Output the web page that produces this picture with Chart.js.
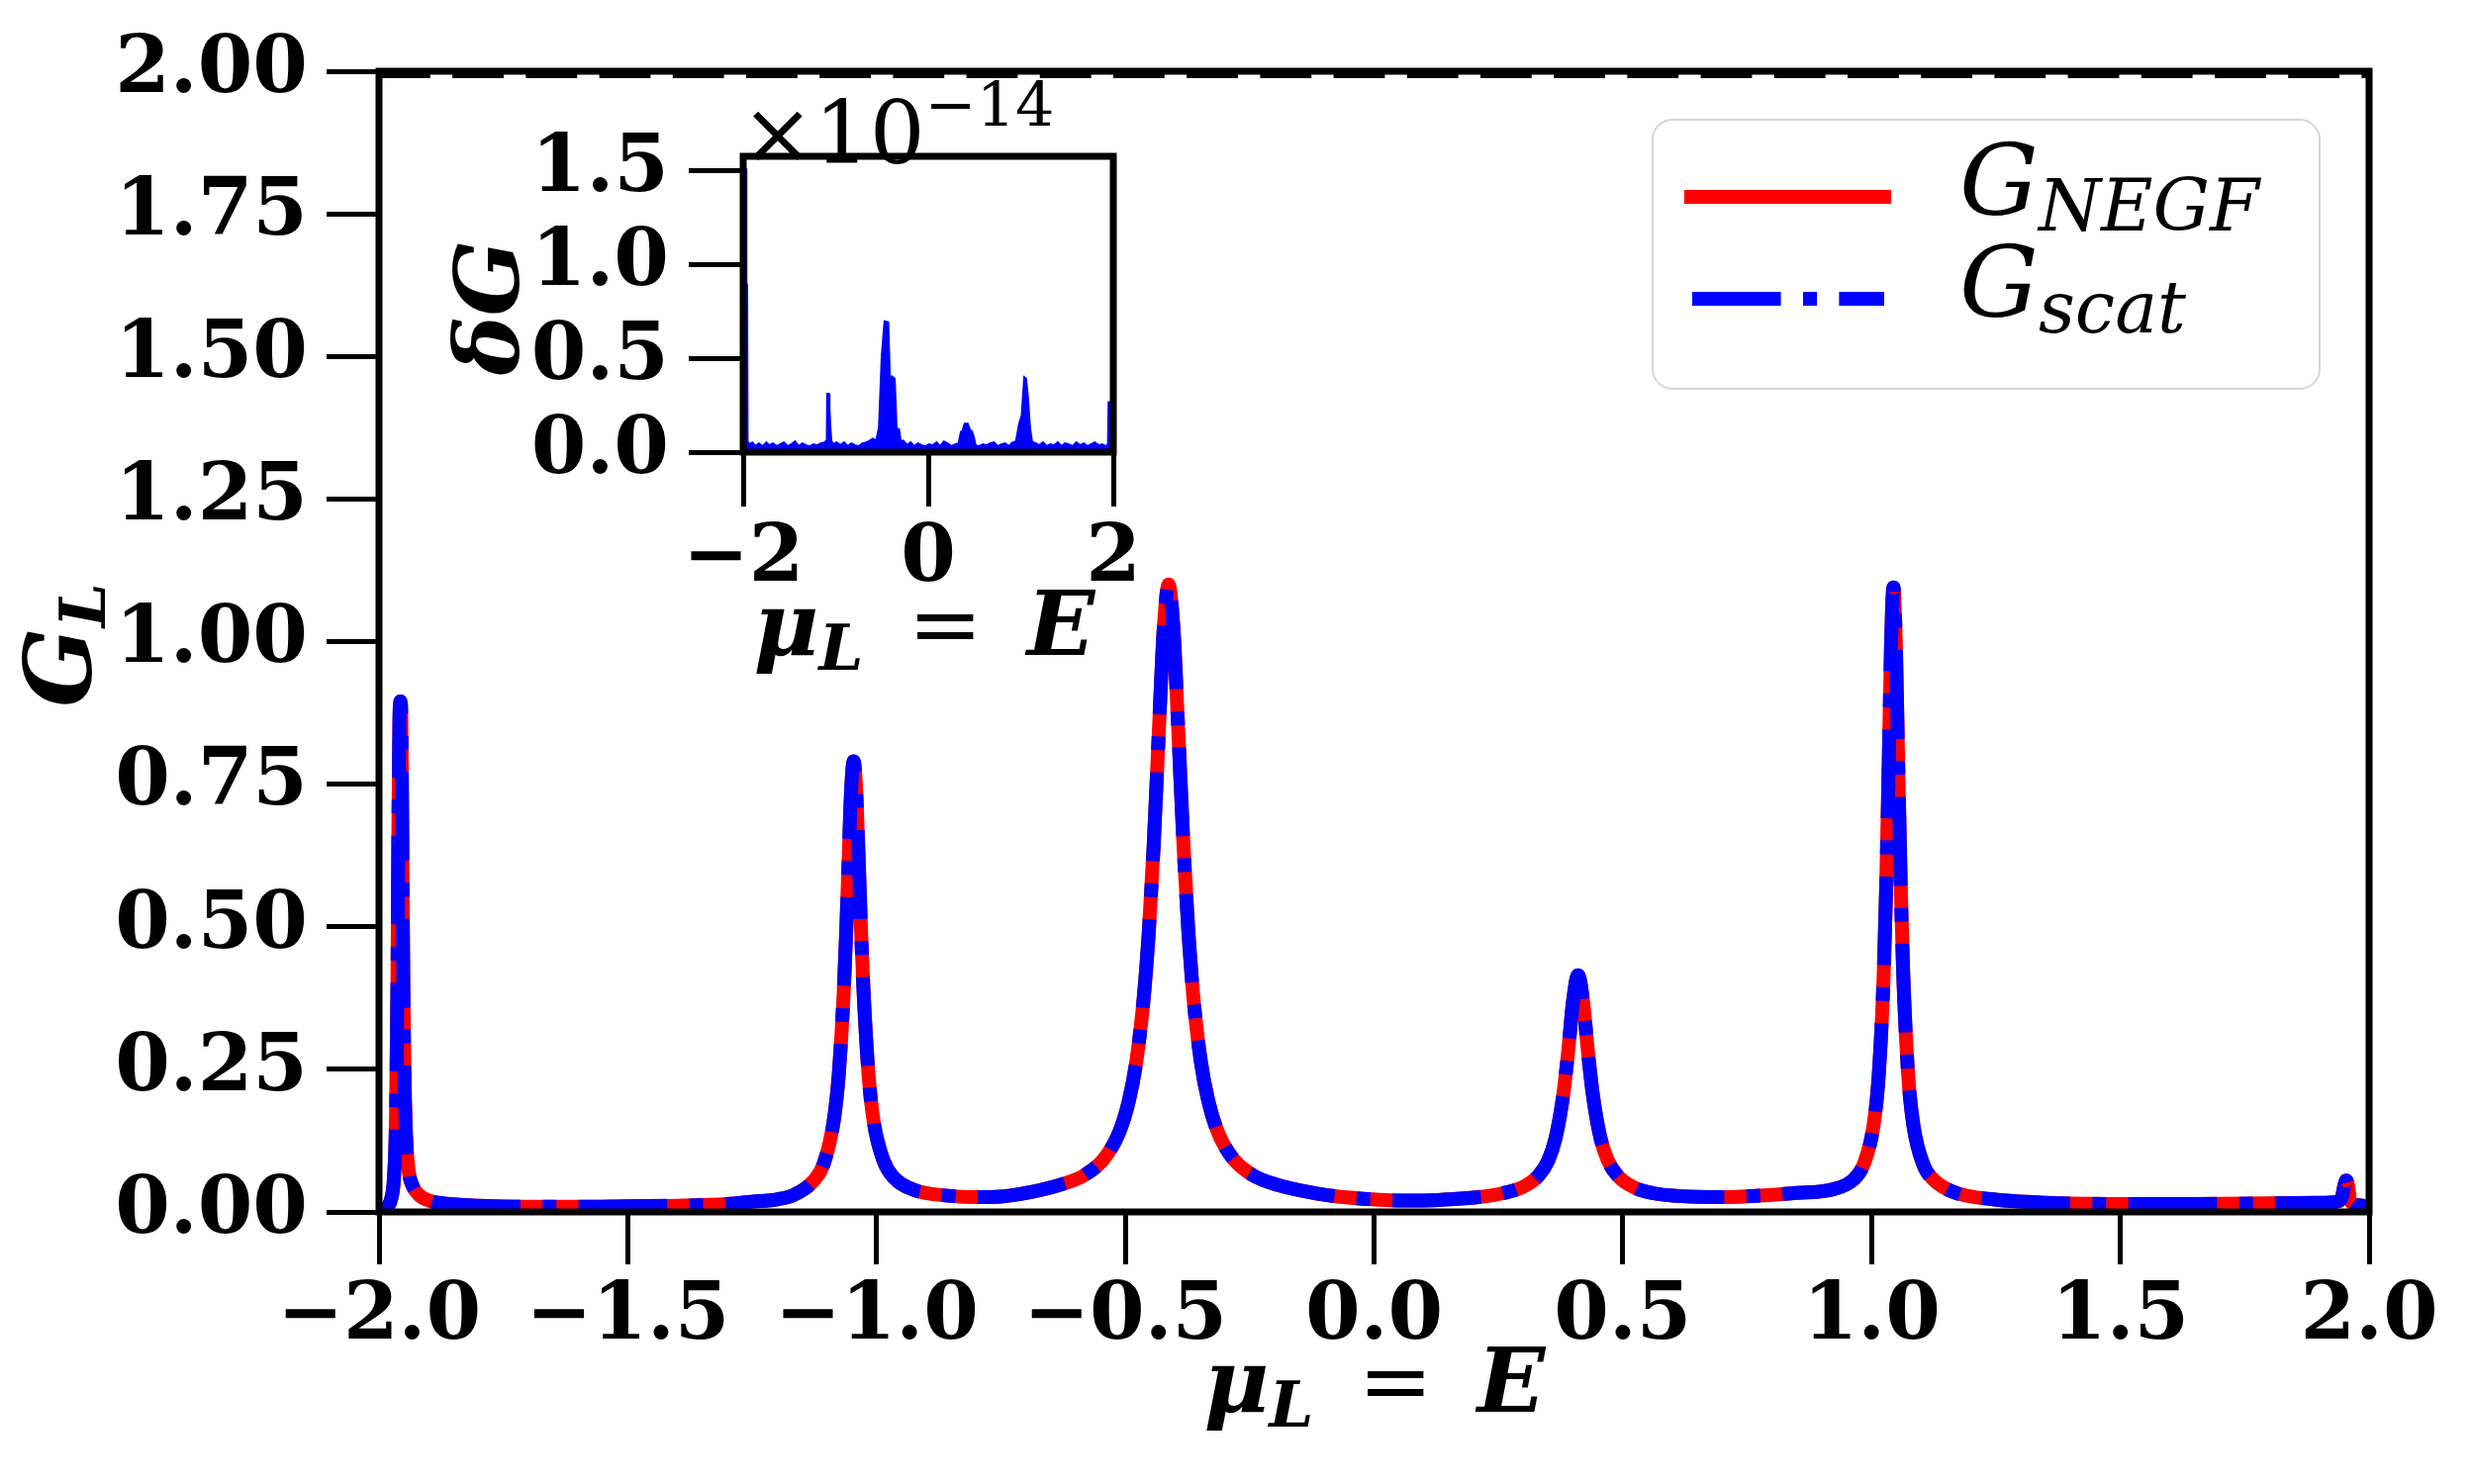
<!DOCTYPE html>
<html><head><meta charset="utf-8">
<script src="https://cdn.jsdelivr.net/npm/chart.js@4.4.1/dist/chart.umd.min.js"></script>
<style>
html,body{margin:0;padding:0;background:#fff;}
#wrap{position:relative;width:2500px;height:1500px;overflow:hidden;}
canvas{position:absolute;left:0;top:0;}
</style></head><body>
<div id="wrap">
<canvas id="main" width="2500" height="1500"></canvas>
<canvas id="inset" width="1250" height="720"></canvas>
</div>
<script>
// ---- main panel data: conductance G_L vs mu_L = E ----
const energies = [-2.000,-1.990,-1.982,-1.975,-1.970,-1.966,-1.963,-1.961,-1.959,-1.957,
-1.955,-1.953,-1.951,-1.948,-1.945,-1.940,-1.932,-1.920,-1.900,-1.870,
-1.800,-1.700,-1.600,-1.500,-1.400,-1.300,-1.250,-1.200,-1.166,-1.126,
-1.106,-1.086,-1.076,-1.066,-1.061,-1.056,-1.051,-1.046,-1.041,-1.036,
-1.031,-1.026,-1.016,-1.006,-0.986,-0.966,-0.926,-0.850,-0.800,-0.750,
-0.700,-0.633,-0.583,-0.543,-0.513,-0.493,-0.478,-0.463,-0.453,-0.443,
-0.433,-0.423,-0.413,-0.403,-0.393,-0.383,-0.373,-0.363,-0.348,-0.333,
-0.313,-0.283,-0.243,-0.193,-0.113,-0.050,0.000,0.050,0.100,0.150,
0.210,0.260,0.300,0.330,0.350,0.365,0.380,0.390,0.400,0.410,
0.420,0.430,0.440,0.455,0.470,0.490,0.520,0.560,0.610,0.700,
0.800,0.844,0.924,0.964,0.984,1.004,1.014,1.024,1.029,1.034,
1.039,1.044,1.049,1.054,1.059,1.064,1.074,1.084,1.104,1.124,
1.164,1.244,1.350,1.500,1.650,1.800,1.900,1.935,1.945,1.950,
1.954,1.958,1.962,1.975,1.990,2.000];
const gNegf = [0.000,0.004,0.010,0.025,0.060,0.160,0.400,0.680,0.860,0.895,
0.860,0.620,0.380,0.200,0.120,0.070,0.045,0.030,0.020,0.015,
0.011,0.009,0.009,0.010,0.011,0.014,0.018,0.022,0.030,0.055,
0.085,0.160,0.240,0.385,0.490,0.620,0.740,0.790,0.740,0.620,
0.490,0.385,0.240,0.160,0.090,0.061,0.039,0.028,0.026,0.027,
0.033,0.047,0.064,0.093,0.138,0.194,0.263,0.375,0.488,0.642,
0.834,1.019,1.100,1.019,0.834,0.642,0.488,0.375,0.263,0.194,
0.138,0.093,0.064,0.047,0.032,0.025,0.022,0.020,0.020,0.022,
0.026,0.033,0.044,0.063,0.090,0.130,0.204,0.280,0.370,0.415,
0.370,0.280,0.204,0.130,0.090,0.063,0.044,0.033,0.028,0.026,
0.030,0.033,0.040,0.057,0.083,0.152,0.235,0.407,0.558,0.764,
0.988,1.095,0.988,0.764,0.558,0.407,0.235,0.152,0.083,0.057,
0.035,0.022,0.016,0.014,0.014,0.015,0.016,0.018,0.025,0.045,
0.055,0.045,0.020,0.012,0.010,0.000];
// G_scat coincides with G_NEGF to plotting accuracy
const gScat = [0.000,0.004,0.010,0.025,0.060,0.160,0.400,0.680,0.860,0.895,
0.860,0.620,0.380,0.200,0.120,0.070,0.045,0.030,0.020,0.015,
0.011,0.009,0.009,0.010,0.011,0.014,0.018,0.022,0.030,0.055,
0.085,0.160,0.240,0.385,0.490,0.620,0.740,0.790,0.740,0.620,
0.490,0.385,0.240,0.160,0.090,0.061,0.039,0.028,0.026,0.027,
0.033,0.047,0.064,0.093,0.138,0.194,0.263,0.375,0.488,0.642,
0.834,1.019,1.100,1.019,0.834,0.642,0.488,0.375,0.263,0.194,
0.138,0.093,0.064,0.047,0.032,0.025,0.022,0.020,0.020,0.022,
0.026,0.033,0.044,0.063,0.090,0.130,0.204,0.280,0.370,0.415,
0.370,0.280,0.204,0.130,0.090,0.063,0.044,0.033,0.028,0.026,
0.030,0.033,0.040,0.057,0.083,0.152,0.235,0.407,0.558,0.764,
0.988,1.095,0.988,0.764,0.558,0.407,0.235,0.152,0.083,0.057,
0.035,0.022,0.016,0.014,0.014,0.015,0.016,0.018,0.025,0.045,
0.055,0.045,0.020,0.012,0.010,0.000];
const upperLineE = [-2, 2];
const upperLineG = [2, 2];
const xTicks = [-2.0,-1.5,-1.0,-0.5,0.0,0.5,1.0,1.5,2.0];
const yTicks = [0.00,0.25,0.50,0.75,1.00,1.25,1.50,1.75,2.00];

// ---- inset data: deltaG (units of 1e-14) ----
const insetEnergies = [-2.000,-1.985,-1.975,-1.968,-1.960,-1.955,-1.940,-1.900,-1.870,-1.830,
-1.790,-1.750,-1.720,-1.680,-1.640,-1.600,-1.560,-1.520,-1.480,-1.440,
-1.400,-1.360,-1.320,-1.280,-1.240,-1.200,-1.160,-1.120,-1.100,-1.093,
-1.089,-1.078,-1.070,-1.060,-1.050,-1.030,-0.990,-0.950,-0.910,-0.870,
-0.830,-0.790,-0.750,-0.710,-0.670,-0.630,-0.600,-0.560,-0.530,-0.500,
-0.470,-0.435,-0.414,-0.390,-0.365,-0.345,-0.318,-0.300,-0.270,-0.230,
-0.190,-0.150,-0.110,-0.070,-0.030,0.010,0.050,0.090,0.130,0.170,
0.210,0.250,0.290,0.330,0.355,0.370,0.395,0.425,0.450,0.470,
0.490,0.510,0.550,0.590,0.630,0.670,0.710,0.750,0.790,0.830,
0.870,0.910,0.950,0.985,1.013,1.040,1.055,1.073,1.098,1.120,
1.160,1.200,1.240,1.280,1.320,1.360,1.400,1.440,1.480,1.520,
1.560,1.600,1.640,1.680,1.720,1.760,1.800,1.840,1.880,1.920,
1.945,1.952,2.000];
const insetDeltaG = [0.03,0.04,1.51,0.90,0.89,0.06,0.04,0.05,0.03,0.045,
0.03,0.05,0.035,0.045,0.03,0.04,0.05,0.03,0.04,0.055,
0.03,0.045,0.035,0.03,0.04,0.035,0.045,0.05,0.06,0.10,
0.31,0.31,0.23,0.13,0.06,0.04,0.05,0.035,0.05,0.03,
0.045,0.035,0.03,0.045,0.05,0.06,0.07,0.06,0.13,0.51,
0.695,0.69,0.335,0.40,0.39,0.126,0.12,0.055,0.06,0.035,
0.05,0.03,0.045,0.035,0.03,0.04,0.035,0.05,0.03,0.055,
0.045,0.03,0.04,0.045,0.107,0.11,0.15,0.15,0.116,0.11,
0.08,0.035,0.03,0.04,0.035,0.045,0.05,0.03,0.04,0.045,
0.03,0.05,0.055,0.15,0.195,0.396,0.39,0.30,0.126,0.054,
0.045,0.035,0.05,0.03,0.04,0.035,0.05,0.03,0.045,0.04,
0.03,0.05,0.035,0.045,0.03,0.04,0.05,0.035,0.04,0.03,
0.04,0.265,0.265];
const insetXTicks = [-2, 0, 2];
const insetYTicks = [0.0, 0.5, 1.0, 1.5];

// ---- helpers ----
const SERIF = "'DejaVu Serif'";
const toPts = (xs, ys) => xs.map((x, i) => ({x: x, y: ys[i]}));
const fmt = (v, d) => (v < 0 ? '\u2212' : '') + Math.abs(v).toFixed(d);
function drawParts(ctx, parts, x, y, align) {
  let total = 0; const widths = [];
  parts.forEach(p => { ctx.font = p[1]; const w = ctx.measureText(p[0]).width; widths.push(w); total += w; });
  let cx = align === 'center' ? x - total / 2 : x;
  ctx.textAlign = 'left'; ctx.textBaseline = 'alphabetic'; ctx.fillStyle = '#000';
  parts.forEach((p, i) => { ctx.font = p[1]; ctx.fillText(p[0], cx, y + (p[2] || 0)); cx += widths[i]; });
}
const BI = s => "italic bold " + s + "px " + SERIF;
const B = s => "bold " + s + "px " + SERIF;
const I = s => "italic " + s + "px " + SERIF;
const R = s => s + "px " + SERIF;
const tickFont = {family: 'DejaVu Serif', size: 80, weight: 'bold'};
const muLabel = [['\u03bc', BI(90)], ['L', BI(64), 15], ['\u2002=\u2002', R(90)], ['E', BI(90)]];

function frame(chart, lw) {
  const {ctx, chartArea: a} = chart;
  ctx.save(); ctx.strokeStyle = '#000'; ctx.lineWidth = lw;
  ctx.strokeRect(a.left, a.top, a.right - a.left, a.bottom - a.top);
  ctx.restore();
}

// ---- main chart ----
const MAIN = {left: 383, right: 2394, top: 72, bottom: 1225, W: 2500, H: 1500};
const mainDecor = {
  id: 'mainDecor',
  afterDatasetsDraw(chart) { frame(chart, 7); },
  afterDraw(chart) {
    const ctx = chart.ctx;
    ctx.save();
    // x label
    drawParts(ctx, muLabel, 1389, 1427, 'center');
    // y label (rotated)
    ctx.save(); ctx.translate(92, 652); ctx.rotate(-Math.PI / 2);
    drawParts(ctx, [['G', BI(94)], ['L', BI(64), 14]], 0, 0, 'center');
    ctx.restore();
    // legend
    const lx = 1670, ly = 121, lw = 674, lh = 272, r = 20;
    ctx.beginPath();
    ctx.moveTo(lx + r, ly); ctx.arcTo(lx + lw, ly, lx + lw, ly + lh, r);
    ctx.arcTo(lx + lw, ly + lh, lx, ly + lh, r); ctx.arcTo(lx, ly + lh, lx, ly, r);
    ctx.arcTo(lx, ly, lx + lw, ly, r); ctx.closePath();
    ctx.fillStyle = 'rgba(255,255,255,0.8)'; ctx.fill();
    ctx.strokeStyle = '#d6d6d6'; ctx.lineWidth = 2; ctx.stroke();
    ctx.lineCap = 'butt'; ctx.lineWidth = 14;
    ctx.strokeStyle = '#ff0000'; ctx.setLineDash([]);
    ctx.beginPath(); ctx.moveTo(1702, 199); ctx.lineTo(1911, 199); ctx.stroke();
    ctx.strokeStyle = '#0000ff'; ctx.setLineDash([89.6, 22.4, 14, 22.4]);
    ctx.beginPath(); ctx.moveTo(1710, 302); ctx.lineTo(1904, 302); ctx.stroke();
    ctx.setLineDash([]);
    drawParts(ctx, [['G', I(100)], ['NEGF', I(72), 16]], 1980, 217, 'left');
    drawParts(ctx, [['G', I(100)], ['scat', I(72), 16]], 1980, 320, 'left');
    ctx.restore();
  }
};

new Chart(document.getElementById('main'), {
  type: 'line',
  data: {
    datasets: [
      {label: 'upper', data: toPts(upperLineE, upperLineG), borderColor: '#000', borderWidth: 14,
       borderDash: [51.8, 22.4], borderCapStyle: 'butt', pointRadius: 0, clip: 0, order: 0},
      {label: 'G_NEGF', data: toPts(energies, gNegf), borderColor: '#ff0000', borderWidth: 14,
       pointRadius: 0, clip: 0, cubicInterpolationMode: 'monotone', borderJoinStyle: 'round', order: 2},
      {label: 'G_scat', data: toPts(energies, gScat), borderColor: '#0000ff', borderWidth: 14,
       borderDash: [89.6, 22.4, 14, 22.4], borderCapStyle: 'butt', borderJoinStyle: 'round',
       pointRadius: 0, clip: 0, cubicInterpolationMode: 'monotone', order: 1}
    ]
  },
  options: {
    responsive: false, devicePixelRatio: 1, animation: false,
    layout: {padding: {left: 0, right: MAIN.W - MAIN.right, top: MAIN.top, bottom: 0}},
    plugins: {legend: {display: false}, tooltip: {enabled: false}},
    scales: {
      x: {type: 'linear', min: -2, max: 2,
          afterFit(s) { s.height = MAIN.H - MAIN.bottom; },
          afterBuildTicks(s) { s.ticks = xTicks.map(v => ({value: v})); },
          ticks: {font: tickFont, color: '#000', padding: 6, maxRotation: 0, autoSkip: false,
                  callback: v => fmt(v, 1)},
          grid: {drawOnChartArea: false, drawTicks: true, tickLength: 53, tickWidth: 5, tickColor: '#000'},
          border: {display: false}},
      y: {type: 'linear', min: 0, max: 2,
          afterFit(s) { s.width = MAIN.left; },
          afterBuildTicks(s) { s.ticks = yTicks.map(v => ({value: v})); },
          ticks: {font: tickFont, color: '#000', padding: 19, autoSkip: false, callback: v => fmt(v, 2)},
          grid: {drawOnChartArea: false, drawTicks: true, tickLength: 53, tickWidth: 5, tickColor: '#000'},
          border: {display: false}}
    }
  },
  plugins: [mainDecor]
});

// ---- inset chart ----
const INS = {left: 751, right: 1125, top: 158, bottom: 457, W: 1250, H: 720};
const insetDecor = {
  id: 'insetDecor',
  beforeDatasetsDraw(chart) {
    const {ctx, chartArea: a} = chart;
    ctx.save(); ctx.fillStyle = '#fff'; ctx.fillRect(a.left, a.top, a.right - a.left, a.bottom - a.top); ctx.restore();
  },
  afterDatasetsDraw(chart) { frame(chart, 7); },
  afterDraw(chart) {
    const ctx = chart.ctx;
    ctx.save();
    drawParts(ctx, [['\u00d710', R(88)], ['\u221214', R(62), -38]], 749, 165, 'left');
    drawParts(ctx, muLabel, 934, 662, 'center');
    ctx.save(); ctx.translate(524, 311); ctx.rotate(-Math.PI / 2);
    drawParts(ctx, [['\u03b4G', BI(90)]], 0, 0, 'center');
    ctx.restore();
    ctx.restore();
  }
};
new Chart(document.getElementById('inset'), {
  type: 'line',
  data: {
    datasets: [
      {label: 'deltaG', data: toPts(insetEnergies, insetDeltaG), borderColor: '#0000ff',
       backgroundColor: '#0000ff', fill: 'origin', borderWidth: 2.5, pointRadius: 0, clip: 0, tension: 0}
    ]
  },
  options: {
    responsive: false, devicePixelRatio: 1, animation: false,
    layout: {padding: {left: 0, right: INS.W - INS.right, top: INS.top, bottom: 0}},
    plugins: {legend: {display: false}, tooltip: {enabled: false}, filler: {propagate: false}},
    scales: {
      x: {type: 'linear', min: -2, max: 2,
          afterFit(s) { s.height = INS.H - INS.bottom; },
          afterBuildTicks(s) { s.ticks = insetXTicks.map(v => ({value: v})); },
          ticks: {font: tickFont, color: '#000', padding: 6, maxRotation: 0, autoSkip: false,
                  callback: v => fmt(v, 0)},
          grid: {drawOnChartArea: false, drawTicks: true, tickLength: 55, tickWidth: 5, tickColor: '#000'},
          border: {display: false}},
      y: {type: 'linear', min: 0, max: 1.575,
          afterFit(s) { s.width = INS.left; },
          afterBuildTicks(s) { s.ticks = insetYTicks.map(v => ({value: v})); },
          ticks: {font: tickFont, color: '#000', padding: 20, autoSkip: false, callback: v => fmt(v, 1)},
          grid: {drawOnChartArea: false, drawTicks: true, tickLength: 55, tickWidth: 5, tickColor: '#000'},
          border: {display: false}}
    }
  },
  plugins: [insetDecor]
});
</script>
</body></html>
